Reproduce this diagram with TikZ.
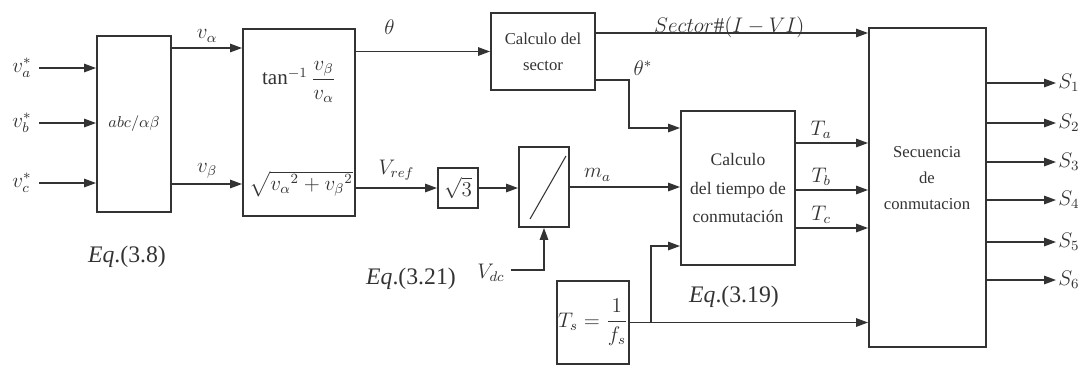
\documentclass[tikz,border=0pt]{standalone}
\usepackage{amsmath}
\usepackage{fontspec}
\setmainfont{Liberation Serif}
\usetikzlibrary{arrows.meta, positioning, calc}

\begin{document}
\begin{tikzpicture}[x=0.02cm, y=-0.02cm, line width=0.8pt, black!80,
    blk/.style={draw, line width=1.1pt, inner sep=0pt, align=center},
    arr/.style={-{Triangle[length=2.4mm, width=1.7mm]}},
    lbl/.style={font=\large, inner sep=1pt},
    boxtxt/.style={font=\fontsize{9.5}{15}\selectfont, align=center},
    eqtxt/.style={font=\fontsize{13.5}{15}\selectfont}]
    \useasboundingbox (0,0) rectangle (1086,370);

    % bloques
    \node[blk, minimum width=1.48cm, minimum height=3.52cm, font=\small] (abc) at (134,124) {$abc/\alpha\beta$};
    \node[blk, minimum width=2.24cm, minimum height=3.74cm] (tan) at (299,122.5) {};
    \node[font=\large] (atan) at (299,82) {$\tan^{-1}\dfrac{v_\beta}{v_\alpha}$};
    \node[font=\large] (mag) at (301,184) {$\sqrt{{v_\alpha}^{2}+{v_\beta}^{2}}$};
    \node[blk, minimum width=2.08cm, minimum height=1.54cm, boxtxt] (sec) at (543,51.5) {Calculo del\\ sector};
    \node[blk, minimum width=0.8cm, minimum height=0.8cm, font=\large] (sq) at (458,188) {$\sqrt{3}$};
    \node[blk, minimum width=1.0cm, minimum height=1.6cm] (lim) at (544,187) {};
    \draw[line width=0.6pt] ($(lim.south west)+(12,-9)$) -- ($(lim.north east)+(-4,10)$);
    \node[blk, minimum width=2.28cm, minimum height=3.08cm, font=\fontsize{10}{16}\selectfont] (tie) at (738,188) {Calculo\\ del tiempo de\\ conmutación};
    \node[blk, minimum width=2.34cm, minimum height=6.38cm] (seq) at (927.5,187.5) {};
    \node[boxtxt] (seqt) at (927,178) {Secuencia\\ de\\ conmutacion};
    \node[blk, minimum width=1.44cm, minimum height=1.66cm, font=\large] (ts) at (593,322.5) {$T_s=\dfrac{1}{f_s}$};

    % entradas
    \node[lbl] (ina) at (22,68) {$v_a^*$};
    \node[lbl] (inb) at (22,123) {$v_b^*$};
    \node[lbl] (inc) at (22,183) {$v_c^*$};
    \foreach \n in {ina,inb,inc}
        \draw[arr] ([xshift=3pt]\n.east) -- (abc.west |- \n.east);

    % conexiones
    \draw[arr] (abc.east |- 0,48) -- (tan.west |- 0,48) node[lbl, midway, above=2pt] (lva) {$v_\alpha$};
    \draw[arr] (abc.east |- 0,184) -- (tan.west |- 0,184) node[lbl, midway, above=2pt] (lvb) {$v_\beta$};
    \draw[arr] (tan.east |- sec.west) -- (sec.west) node[lbl, pos=.25, above=8pt] (lth) {$\theta$};
    \draw[arr] (sec.east |- 0,33) -- (seq.west |- 0,33) node[lbl, pos=.49, above=-4pt] (lsec) {$Sector\#(I-VI)$};
    \coordinate (tk) at (629,128);
    \draw[arr] (sec.east |- 0,80) -| (tk) -- (tie.west |- tk);
    \node[lbl] (lths) at (643,68) {$\theta^*$};
    \draw[arr] (tan.east |- sq.west) -- (sq.west) node[lbl, midway, above=3pt] (lvref) {$V_{ref}$};
    \draw[arr] (sq.east) -- (lim.west |- sq.east);
    \draw[arr] (lim.east) -- (tie.west |- lim.east) node[lbl, pos=.25, above=2pt] (lma) {$m_a$};
    \node[lbl] (vdc) at (491,273) {$V_{dc}$};
    \coordinate (dc) at (511,270);
    \draw[arr] (dc) -| (lim.south);
    \draw[arr] (ts.east) -- (seq.west |- ts.east);
    \coordinate (tsb) at ($(ts.east)+(21,0)$);
    \draw[arr] (tsb) |- (tie.west |- 0,246);
    \foreach \y/\t in {143/a,190/b,228/c}
        \draw[arr] (tie.east |- 0,\y) -- (seq.west |- 0,\y) node[lbl, pos=.35, above=1pt] (lt\t) {$T_\t$};

    % salidas
    \foreach \y [count=\i] in {83,123,162,200,242,280} {
        \node[lbl] (s\i) at (1069,\y) {$S_{\i}$};
        \draw[arr] (seq.east |- s\i.west) -- (s\i.west);
    }

    \node[eqtxt] (eq1) at (127,257) {\textit{Eq}.(3.8)};
    \node[eqtxt] (eq2) at (411,279) {\textit{Eq}.(3.21)};
    \node[eqtxt] (eq3) at (734,297) {\textit{Eq}.(3.19)};
\end{tikzpicture}
\end{document}
